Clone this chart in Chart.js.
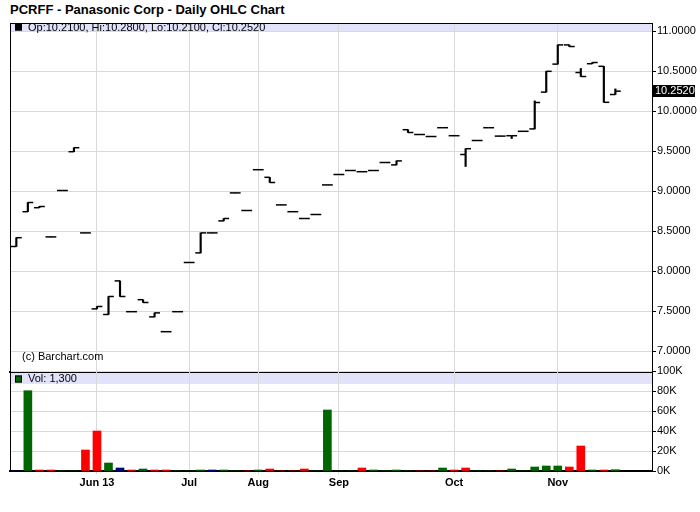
<!DOCTYPE html>
<html><head><meta charset="utf-8">
<script src="https://cdn.jsdelivr.net/npm/chart.js@4.4.1/dist/chart.umd.min.js"></script>
<style>
html,body{margin:0;padding:0;background:#fff;}
#wrap{position:relative;width:700px;height:512px;overflow:hidden;}
#title{position:absolute;left:10px;top:2px;font:bold 13px "Liberation Sans",Arial,Helvetica,sans-serif;color:#000;white-space:nowrap;}
canvas{position:absolute;left:0;top:0;}
</style></head><body>
<div id="wrap">
<div id="title">PCRFF - Panasonic Corp - Daily OHLC Chart</div>
<canvas id="pc" width="700" height="512" style="width:700px;height:512px"></canvas>
<canvas id="vc" width="700" height="512" style="width:700px;height:512px"></canvas>
</div>
<script>
// ---- data (one entry per trading record, oldest first) ----
const opens  = [8.31, 8.745, 8.795, 8.43, 9.01, 9.495, 8.48, 7.53, 7.46, 7.88, 7.495, 7.645, 7.43, 7.245, 7.495, 8.11, 8.23, 8.48, 8.63, 8.98, 8.76, 9.27, 9.175, 8.83, 8.745, 8.66, 8.71, 9.08, 9.21, 9.26, 9.245, 9.26, 9.36, 9.33, 9.77, 9.71, 9.685, 9.795, 9.695, 9.46, 9.635, 9.795, 9.69, 9.695, 9.75, 9.78, 10.24, 10.59, 10.83, 10.485, 10.595, 10.5625, 10.21];
const highs  = [8.42, 8.86, 8.81, 8.43, 9.01, 9.545, 8.48, 7.56, 7.685, 7.88, 7.495, 7.645, 7.48, 7.245, 7.495, 8.11, 8.48, 8.48, 8.66, 8.98, 8.76, 9.27, 9.175, 8.83, 8.745, 8.66, 8.71, 9.08, 9.21, 9.26, 9.245, 9.26, 9.36, 9.38, 9.77, 9.71, 9.685, 9.795, 9.695, 9.5325, 9.635, 9.795, 9.69, 9.695, 9.75, 10.13, 10.50, 10.83, 10.83, 10.535, 10.61, 10.5625, 10.28];
const lows   = [8.31, 8.745, 8.795, 8.43, 9.01, 9.495, 8.48, 7.53, 7.46, 7.685, 7.495, 7.61, 7.43, 7.245, 7.495, 8.11, 8.23, 8.48, 8.63, 8.98, 8.76, 9.27, 9.11, 8.83, 8.745, 8.66, 8.71, 9.08, 9.21, 9.26, 9.245, 9.26, 9.36, 9.33, 9.735, 9.71, 9.685, 9.795, 9.695, 9.31, 9.635, 9.795, 9.69, 9.66, 9.75, 9.78, 10.24, 10.59, 10.81, 10.435, 10.595, 10.1125, 10.21];
const closes = [8.42, 8.86, 8.81, 8.43, 9.01, 9.545, 8.48, 7.56, 7.685, 7.685, 7.495, 7.61, 7.48, 7.245, 7.495, 8.11, 8.48, 8.48, 8.66, 8.98, 8.76, 9.27, 9.11, 8.83, 8.745, 8.66, 8.71, 9.08, 9.21, 9.26, 9.245, 9.26, 9.36, 9.38, 9.735, 9.71, 9.685, 9.795, 9.695, 9.5325, 9.635, 9.795, 9.69, 9.695, 9.75, 10.11, 10.50, 10.83, 10.81, 10.435, 10.61, 10.1125, 10.252];
const volumes = [0, 80300, 1000, 1000, 0, 0, 21000, 40000, 8000, 3000, 1000, 2000, 1000, 1000, 0, 0, 1000, 1000, 1000, 0, 0, 1000, 2000, 0, 0, 2000, 0, 61000, 0, 0, 3000, 1000, 0, 1000, 0, 0, 0, 3000, 1000, 3000, 0, 0, 0, 2000, 0, 4000, 5000, 5000, 4000, 25000, 1000, 1000, 1300];
const xTickIdx    = [7, 15, 21, 28, 38, 47];
const xTickLabels = ['Jun 13', 'Jul', 'Aug', 'Sep', 'Oct', 'Nov'];
const priceTicks  = [7, 7.5, 8, 8.5, 9, 9.5, 10, 10.5, 11];
const volTicks    = [0, 20000, 40000, 60000, 80000, 100000];

// ---- styling ----
const FONT = '"Liberation Sans", Arial, Helvetica, sans-serif';
const GRID = '#d9d9d9';
const BAND = '#e2e2fa';
const UP = '#006600', DOWN = '#ff0000', SAME = '#000080';
const X_MIN = -0.55, X_MAX = 55.18;
const P_MIN = 6.741, P_MAX = 11.104;
const TICK_OFF = 0.235, TICK_R = 2.7, LW = 1.5;

Chart.defaults.font.family = FONT;
Chart.defaults.font.size = 11;
Chart.defaults.color = '#000';

const N = opens.length;
const idx = opens.map((_, i) => i);
const volColors = idx.map(i => i === 0 ? SAME : (closes[i] > closes[i-1] ? UP : (closes[i] < closes[i-1] ? DOWN : SAME)));

const panelPlugin = {
  id: 'panel',
  beforeDraw(chart, a, o) {
    const {ctx, chartArea: ca} = chart;
    ctx.save();
    ctx.fillStyle = BAND;
    ctx.fillRect(ca.left, ca.top + o.bandTop, ca.right - ca.left, o.bandHeight);
    ctx.restore();
  },
  afterDraw(chart, a, o) {
    const {ctx, chartArea: ca} = chart;
    ctx.save();
    ctx.strokeStyle = '#000'; ctx.lineWidth = 1;
    ctx.beginPath(); ctx.moveTo(ca.left + 0.5, ca.top); ctx.lineTo(ca.left + 0.5, ca.bottom); ctx.stroke();
    if (o.topBorder) { ctx.beginPath(); ctx.moveTo(ca.left, ca.top + 0.5); ctx.lineTo(ca.right, ca.top + 0.5); ctx.stroke(); }
    const cy = ca.top + o.bandTop + o.bandHeight / 2;
    ctx.fillStyle = o.squareColor; ctx.fillRect(15, Math.round(cy) - 3.5, 7, 7);
    ctx.strokeRect(15.5, Math.round(cy) - 3, 6, 6);
    ctx.fillStyle = '#000'; ctx.font = '11px ' + FONT; ctx.textBaseline = 'middle'; ctx.textAlign = 'left';
    ctx.fillText(o.text, 28, cy + 0.5);
    if (o.copyright) ctx.fillText(o.copyright, 22, ca.bottom - 15);
    if (o.lastValue !== undefined) {
      const ys = chart.scales.y, y = ys.getPixelForValue(o.lastValue);
      ctx.fillStyle = '#000'; ctx.fillRect(ca.right + 1, Math.round(y) - 6, 42, 12);
      ctx.fillStyle = '#fff'; ctx.fillText(o.lastValue.toFixed(4), ca.right + 3, Math.round(y));
    }
    ctx.restore();
  }
};

const xScaleBase = {
  type: 'linear', min: X_MIN, max: X_MAX, position: 'bottom', offset: false,
  afterBuildTicks: s => { s.ticks = xTickIdx.map(v => ({value: v})); }
};

// ---- price chart ----
new Chart(document.getElementById('pc'), {
  type: 'bar',
  data: { datasets: [
    { type: 'bar', data: idx.map(i => ({x: i, y: [lows[i], highs[i]]})), backgroundColor: '#000', barThickness: LW, borderWidth: 0 },
    { type: 'scatter', data: idx.map(i => ({x: i - TICK_OFF, y: opens[i]})), pointStyle: 'line', pointRadius: TICK_R, pointHoverRadius: TICK_R, borderColor: '#000', borderWidth: LW, showLine: false },
    { type: 'scatter', data: idx.map(i => ({x: i + TICK_OFF, y: closes[i]})), pointStyle: 'line', pointRadius: TICK_R, pointHoverRadius: TICK_R, borderColor: '#000', borderWidth: LW, showLine: false }
  ]},
  plugins: [panelPlugin],
  options: {
    responsive: false, animation: false, devicePixelRatio: 1, events: [],
    layout: { padding: { left: 10, top: 23, right: 0, bottom: 140 } },
    plugins: {
      legend: { display: false }, tooltip: { enabled: false },
      panel: { bandTop: 0, bandHeight: 8.5, topBorder: true, squareColor: '#000',
        text: `Op:${opens[N-1].toFixed(4)}, Hi:${highs[N-1].toFixed(4)}, Lo:${lows[N-1].toFixed(4)}, Cl:${closes[N-1].toFixed(4)}`,
        copyright: '(c) Barchart.com', lastValue: closes[N-1] }
    },
    scales: {
      x: Object.assign({}, xScaleBase, {
        afterFit: s => { s.height = 0; },
        ticks: { display: false },
        grid: { color: GRID, drawTicks: false, offset: false },
        border: { display: true, color: '#000', width: 2 }
      }),
      y: {
        position: 'right', min: P_MIN, max: P_MAX,
        afterBuildTicks: s => { s.ticks = priceTicks.map(v => ({value: v})); },
        afterFit: s => { s.width = 48; },
        ticks: { callback: v => Number(v).toFixed(4), padding: 1 },
        grid: { color: GRID, tickColor: '#000', tickLength: 4 },
        border: { display: true, color: '#000', width: 1 }
      }
    }
  }
});

// ---- volume chart ----
new Chart(document.getElementById('vc'), {
  type: 'bar',
  data: { datasets: [
    { data: idx.map(i => ({x: i, y: volumes[i]})), backgroundColor: volColors, barThickness: 8, borderWidth: 0 }
  ]},
  plugins: [panelPlugin],
  options: {
    responsive: false, animation: false, devicePixelRatio: 1, events: [],
    layout: { padding: { left: 10, top: 371, right: 0, bottom: 0 } },
    plugins: {
      legend: { display: false }, tooltip: { enabled: false },
      panel: { bandTop: 2, bandHeight: 11, topBorder: false, squareColor: UP,
        text: `Vol: ${volumes[N-1].toLocaleString('en-US')}` }
    },
    scales: {
      x: Object.assign({}, xScaleBase, {
        afterFit: s => { s.height = 41; },
        ticks: { callback: v => xTickLabels[xTickIdx.indexOf(v)], font: { weight: 'bold', size: 11 }, padding: 2, autoSkip: false, maxRotation: 0 },
        grid: { color: GRID, tickColor: GRID, tickLength: 3, offset: false },
        border: { display: true, color: '#000', width: 2 }
      }),
      y: {
        position: 'right', min: 0, max: 100000,
        afterBuildTicks: s => { s.ticks = volTicks.map(v => ({value: v})); },
        afterFit: s => { s.width = 48; },
        ticks: { callback: v => (v / 1000) + 'K', padding: 1 },
        grid: { color: GRID, tickColor: '#000', tickLength: 4 },
        border: { display: true, color: '#000', width: 1 }
      }
    }
  }
});
</script>
</body></html>
